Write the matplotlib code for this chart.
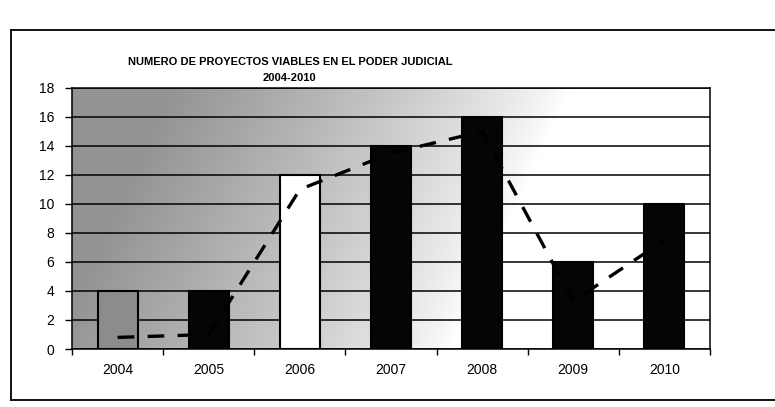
import numpy as np
import matplotlib
matplotlib.use("Agg")
import matplotlib.pyplot as plt
from matplotlib.lines import Line2D

plt.rcParams['font.family'] = ['Liberation Sans', 'DejaVu Sans']

# ---- data ----
years = ["2004", "2005", "2006", "2007", "2008", "2009", "2010"]
projects = [4, 4, 12, 14, 16, 6, 10]
trend = [0.8, 1.0, 11.0, 13.5, 15.0, 3.3, 7.5]
bar_colors = ["#8c8c8c", "#050505", "#ffffff", "#050505", "#050505", "#050505", "#050505"]
title_line1 = "NUMERO DE PROYECTOS VIABLES EN EL PODER JUDICIAL"
title_line2 = "2004-2010"
y_ticks = list(range(0, 19, 2))

fig = plt.figure(figsize=(7.75, 4.07), dpi=100)
fig.patch.set_facecolor("white")
ax = fig.add_axes([0.093, 0.1425, 0.823, 0.6415])

x = np.arange(len(years))
ax.set_xlim(-0.5, len(years) - 0.5)
ax.set_ylim(0, 18)

# gradient background (grey top-left fading to white)
gx = np.linspace(0, 1, 300)
gy = np.linspace(1, 0, 150)
GX, GY = np.meshgrid(gx, gy)
d = np.clip(1.1 - 1.6 * GX + 0.3 * (GY - 0.5), 0, 1) ** 0.8
v = 1 - 0.42 * d
img = np.dstack([v, v, v])
ax.imshow(img, extent=[-0.5, len(years) - 0.5, 0, 18], aspect="auto",
          zorder=0, interpolation="bilinear")

# gridlines
for t in y_ticks:
    ax.axhline(t, color="black", lw=1.1, zorder=1)

ax.bar(x, projects, width=0.44, color=bar_colors, edgecolor="black",
       linewidth=1.5, zorder=2)
ax.plot(x, trend, color="black", lw=2.4, linestyle=(0, (5, 4)), zorder=3,
        solid_capstyle="butt", dash_capstyle="butt")

ax.set_yticks(y_ticks)
ax.set_yticklabels([str(t) for t in y_ticks], fontsize=10)
ax.set_xticks(x)
ax.set_xticklabels(years, fontsize=10)
ax.set_xticks(np.arange(-0.5, len(years), 1), minor=True)
ax.tick_params(axis="x", which="major", length=0, pad=10)
ax.tick_params(axis="x", which="minor", length=4, width=1, direction="out")
ax.tick_params(axis="y", length=5, width=1, direction="out", pad=8)
for s in ax.spines.values():
    s.set_color("black")
    s.set_linewidth(1.1)

# titles
fig.text(0.374, 1 - 62 / 407, title_line1, ha="center", va="center",
         fontsize=8, fontweight="bold")
fig.text(0.374, 1 - 78 / 407, title_line2, ha="center", va="center",
         fontsize=8, fontweight="bold")

# chart-area border (extends past the right edge, as in the scan)
border = [Line2D([0.014, 1.01], [1 - 30 / 407, 1 - 30 / 407]),
          Line2D([0.014, 0.014], [1 - 30 / 407, 1 - 400 / 407]),
          Line2D([0.014, 1.01], [1 - 400 / 407, 1 - 400 / 407])]
for ln in border:
    ln.set_transform(fig.transFigure)
    ln.set_color("black")
    ln.set_linewidth(1.3)
    fig.add_artist(ln)

fig.savefig("out.png", dpi=100, facecolor="white")
